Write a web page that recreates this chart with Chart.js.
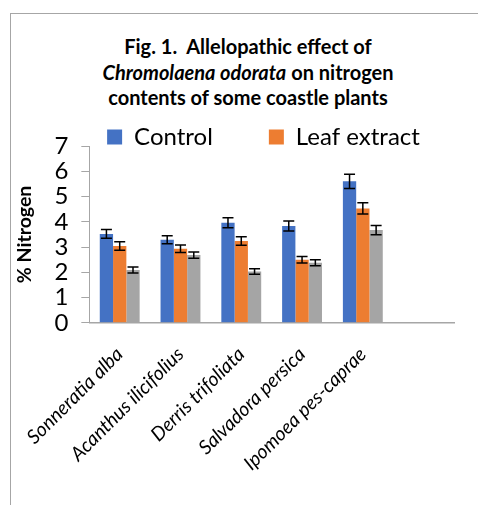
<!DOCTYPE html>
<html>
<head>
<meta charset="utf-8">
<script src="https://cdn.jsdelivr.net/npm/chart.js@4.4.0/dist/chart.umd.min.js"></script>
<style>
  html, body { margin: 0; padding: 0; background: #fff; }
  body { width: 478px; height: 505px; position: relative; overflow: hidden; font-family: Lato, sans-serif; }
  #frame { position: absolute; left: 10px; top: 13px; width: 520px; height: 520px; border: 1px solid #a6a6a6; }
  #title { position: absolute; left: 10px; top: 34px; width: 476px; text-align: center;
           font-weight: bold; font-size: 20px; line-height: 25.5px; color: #000; }
  #wrap { position: absolute; left: 11px; top: 69px; width: 467px; height: 418px; }
</style>
</head>
<body>
<div id="frame"></div>
<div id="title">Fig. 1.&nbsp; Allelopathic effect of<br><i>Chromolaena odorata</i> on nitrogen<br>contents of some coastle plants</div>
<div id="wrap"><canvas id="chart"></canvas></div>
<script>
const categories = ['Sonneratia alba', 'Acanthus ilicifolius', 'Derris trifoliata', 'Salvadora persica', 'Ipomoea pes-caprae', ''];
const control = [3.52, 3.29, 3.96, 3.83, 5.6, null];
const leafExtract = [3.04, 2.93, 3.24, 2.5, 4.53, null];
const series3 = [2.09, 2.68, 2.03, 2.38, 3.67, null];
const controlErr = [0.17, 0.16, 0.2, 0.2, 0.28, 0];
const leafErr = [0.17, 0.15, 0.17, 0.13, 0.22, 0];
const series3Err = [0.12, 0.12, 0.11, 0.12, 0.18, 0];
const yTicks = [0, 1, 2, 3, 4, 5, 6, 7];

const errors = [controlErr, leafErr, series3Err];

// error bars drawn from the data through the y scale
const errorBars = {
    id: 'errorBars',
    afterDatasetsDraw(chart) {
        const ctx = chart.ctx;
        const y = chart.scales.y;
        ctx.save();
        ctx.strokeStyle = '#000';
        ctx.lineWidth = 1.5;
        chart.data.datasets.forEach((ds, i) => {
            const meta = chart.getDatasetMeta(i);
            meta.data.forEach((bar, j) => {
                const v = ds.data[j];
                if (v === null) return;
                const e = errors[i][j];
                const top = y.getPixelForValue(v + e);
                const bot = y.getPixelForValue(v - e);
                const x = bar.x;
                ctx.beginPath();
                ctx.moveTo(x, top); ctx.lineTo(x, bot);
                ctx.moveTo(x - 5.5, top); ctx.lineTo(x + 5.5, top);
                ctx.moveTo(x - 5.5, bot); ctx.lineTo(x + 5.5, bot);
                ctx.stroke();
            });
        });
        ctx.restore();
    }
};

// legend sits a bit right of the canvas centre in the original
const legendShift = {
    id: 'legendShift',
    afterLayout(chart) {
        chart.legend.left += 30;
        chart.legend.right += 30;
    }
};

new Chart(document.querySelector('#chart').getContext('2d'), {
    type: 'bar',
    data: {
        labels: categories,
        datasets: [
            { label: 'Control', data: control, backgroundColor: '#4472C4' },
            { label: 'Leaf extract', data: leafExtract, backgroundColor: '#ED7D31' },
            { label: 'Series3', data: series3, backgroundColor: '#A5A5A5' }
        ]
    },
    options: {
        responsive: true,
        maintainAspectRatio: false,
        animation: false,
        layout: { padding: { left: 2, right: 24, top: 0, bottom: 0 } },
        datasets: { bar: { categoryPercentage: 0.656, barPercentage: 1 } },
        plugins: {
            tooltip: { enabled: false },
            legend: {
                position: 'top',
                maxHeight: 77,
                labels: {
                    boxWidth: 15,
                    boxHeight: 15,
                    padding: 56,
                    color: '#000',
                    font: { family: 'Lato', size: 24 },
                    filter: item => item.datasetIndex < 2
                }
            }
        },
        scales: {
            x: {
                grid: { display: false },
                border: { display: true, color: '#a6a6a6', width: 1.5 },
                ticks: {
                    autoSkip: false,
                    minRotation: 45,
                    maxRotation: 45,
                    color: '#000',
                    padding: 12,
                    font: { family: 'Lato', size: 19.5, style: 'italic' }
                }
            },
            y: {
                min: 0,
                max: 7,
                afterBuildTicks: axis => { axis.ticks = yTicks.map(v => ({ value: v })); },
                grid: { drawOnChartArea: false, drawTicks: true, tickLength: 8, color: '#a6a6a6' },
                border: { display: true, color: '#a6a6a6', width: 1 },
                ticks: { autoSkip: false, color: '#000', padding: 13, font: { family: 'Lato', size: 24 } },
                title: {
                    display: true,
                    text: '% Nitrogen',
                    color: '#000',
                    font: { family: 'Lato', size: 19.5, weight: 'bold' },
                    padding: { top: 0, bottom: 5 }
                }
            }
        }
    },
    plugins: [errorBars, legendShift]
});
</script>
</body>
</html>
